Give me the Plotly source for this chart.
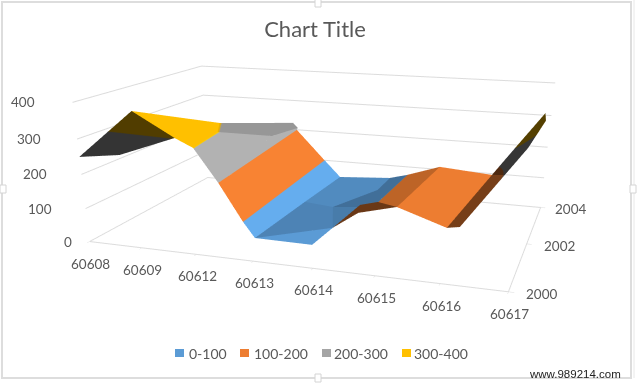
import plotly.graph_objects as go

categories = ["60608", "60609", "60612", "60613", "60614", "60615", "60616", "60617"]
years = [2000, 2002, 2004]
z_ticks = [0, 100, 200, 300, 400]
bands = ["0-100", "100-200", "200-300", "300-400"]
band_colors = ["#5B9BD5", "#ED7D31", "#A5A5A5", "#FFC000"]

vertex_x = {"a":0.00,"b":0.71,"c":1.44,"d":0.23,"e":2.05,"f":1.59,"t":1.89,"g":2.34,"h":2.00,"r":2.11,"s":2.23,"i":2.06,
            "j":2.77,"k":2.65,"l":3.02,"m":3.12,"n":3.10,"x":3.98,"y":4.04,"o":3.61,"z":4.20,"q":4.11,"w":4.10,"A":4.51,
            "B":4.48,"C":5.20,"D":5.10,"E":6.19,"F":6.04,"G":4.32,"H":4.36,"I":4.59,"J":4.96,"K":4.46,"L":6.21,"M":6.55,
            "N":6.72,"O":6.86,"P":7.00,"Q":7.00}
vertex_year = {"a":2000.00,"b":2000.06,"c":2000.51,"d":2001.18,"e":2000.02,"f":2001.72,"t":2001.09,"g":2000.21,"h":2003.95,
               "r":2003.92,"s":2002.45,"i":2003.99,"j":2000.15,"k":2004.00,"l":2000.04,"m":2003.62,"n":2001.87,"x":2000.02,
               "y":2000.75,"o":2001.91,"z":2001.63,"q":2002.92,"w":2003.74,"A":2003.47,"B":2001.74,"C":2003.15,"D":2000.71,
               "E":2002.90,"F":2000.01,"G":2000.00,"H":2001.15,"I":2001.38,"J":2001.22,"K":2000.76,"L":2000.10,"M":2001.84,
               "N":2001.43,"O":2001.95,"P":2002.76,"Q":2002.98}
vertex_value = {"a":250,"b":262,"c":300,"d":340,"e":300,"f":300,"t":300,"g":200,"h":225,"r":210,"s":240,"i":200,"j":100,
                "k":100,"l":65,"m":65,"n":70,"x":65,"y":70,"o":60,"z":85,"q":70,"w":70,"A":99,"B":99,"C":150,"D":150,"E":150,
                "F":150,"G":120,"H":120,"I":120,"J":120,"K":120,"L":150,"M":205,"N":300,"O":280,"P":350,"Q":320}
facets = ["abcd","dcet","dtff","tfhs","shrr","etsg","gsri","gikj","jknl","kmnn","lyxx","lnoy","ozyy","nmwq","nqoo",
          "wABq","qBzo","BACD","DCEF","GHIK","KIJJ","FLME","EMON","NOQP"]
facet_shade = [0.32,1.0,1.0,0.92,0.92,1.08,1.08,1.05,1.12,1.12,1.0,0.85,0.8,0.9,0.9,
               0.72,0.72,0.8,1.0,0.45,0.45,0.5,0.33,0.33]

def shaded(hexcolor, k):
    rgb = [min(255, int(int(hexcolor[i:i+2], 16) * k)) for i in (1, 3, 5)]
    return "rgb(%d,%d,%d)" % tuple(rgb)

def scale(k):
    out = []
    for b, c in enumerate(band_colors):
        s = shaded(c, k)
        out += [[b / 4, s], [(b + 1) / 4, s]]
    return out

def grid(table, f):
    return [[table[f[0]], table[f[1]]], [table[f[3]], table[f[2]]]]

fig = go.Figure()
for f, k in zip(facets, facet_shade):
    z = grid(vertex_value, f)
    fig.add_trace(go.Surface(x=grid(vertex_x, f), y=grid(vertex_year, f), z=z, surfacecolor=z,
                             colorscale=scale(k), cmin=0, cmax=400, showscale=False, hoverinfo="skip",
                             lighting=dict(ambient=1, diffuse=0, specular=0, fresnel=0, roughness=1)))

FULL_H = 700
def py(p):
    return 1 - p / FULL_H

axis_font = dict(family="Lato, sans-serif", size=13.5, color="#595959")
common = dict(showbackground=False, showspikes=False, zeroline=False, title=dict(text=""), showticklabels=False,
              linecolor="#dcdcdc", linewidth=2)
handles = [(3, 189), (633, 189), (318, 378), (318, 3)]
shapes = [dict(type="rect", xref="paper", yref="paper", x0=2/637, x1=631/637, y0=py(378), y1=py(2),
               line=dict(color="#dddddd", width=2), fillcolor="rgba(0,0,0,0)")]
shapes.append(dict(type="line", xref="paper", yref="paper", x0=634/637, x1=634/637, y0=py(378), y1=py(0),
                   line=dict(color="#e8e8e8", width=1)))
for hx, hy in handles:
    shapes.append(dict(type="rect", xref="paper", yref="paper", x0=(hx-3)/637, x1=(hx+3)/637, y0=py(hy+4), y1=py(hy-4),
                       line=dict(color="#d4d4d4", width=1), fillcolor="#ffffff"))

legend_square_x = [175, 240, 322, 402]
legend_text_x = [188, 253, 333, 413]
annotations = [dict(text="www.989214.com", xref="paper", yref="paper", x=623/637, y=py(374), xanchor="right",
                    yanchor="middle", showarrow=False, font=dict(family="Liberation Sans, Arial", size=11.5, color="#222222"))]
for name, color, sx, tx in zip(bands, band_colors, legend_square_x, legend_text_x):
    shapes.append(dict(type="rect", xref="paper", yref="paper", x0=sx/637, x1=(sx+9)/637, y0=py(357), y1=py(349),
                       line=dict(width=0), fillcolor=color))
    annotations.append(dict(text=name, xref="paper", yref="paper", x=tx/637, y=py(353), xanchor="left", yanchor="middle",
                            showarrow=False, xshift=-1, font=dict(family="Lato, sans-serif", size=14, color="#595959")))

scene_labels = []
for i, c in enumerate(categories):
    scene_labels.append(dict(x=i, y=years[0], z=0, text=c, showarrow=False, font=axis_font, xanchor="center", yanchor="middle", xshift=1, yshift=-22))
for y, dx in zip(years, [33, 33, 30]):
    scene_labels.append(dict(x=7, y=y, z=0, text=str(y), showarrow=False, font=axis_font, xanchor="center", yanchor="middle", xshift=dx, yshift=-2))
for t, dx in zip(z_ticks, [-16, -32, -32, -34, -36]):
    scene_labels.append(dict(x=0, y=years[0], z=t, text=str(t), showarrow=False, font=axis_font, xanchor="right", yanchor="middle", xshift=dx, yshift=0))

fig.update_layout(
    width=637, height=FULL_H, margin=dict(l=0, r=0, t=0, b=0, pad=0), paper_bgcolor="white",
    title=dict(text="Chart Title", x=315/637, xanchor="center", y=py(29), yanchor="middle", yref="container",
               font=dict(family="Lato, sans-serif", size=22, color="#595959")),
    showlegend=False, shapes=shapes, annotations=annotations,
    scene=dict(
        domain=dict(x=[0, 1], y=[0, 1]),
        aspectmode="manual", aspectratio=dict(x=2, y=1.305, z=0.654),
        camera=dict(eye=dict(x=1.317, y=-3.983, z=0.975), center=dict(x=-0.14, y=0.245, z=-1.183), up=dict(x=0, y=0, z=1),
                    projection=dict(type="perspective")),
        annotations=scene_labels,
        xaxis=dict(range=[0, 7], tickmode="array", tickvals=list(range(8)), showgrid=False, showline=True,
                   ticks="inside", ticklen=4, tickcolor="#dcdcdc", **common),
        yaxis=dict(range=[2000, 2004], tickmode="array", tickvals=years, showgrid=False, showline=True,
                   ticks="inside", ticklen=4, tickcolor="#dcdcdc", **common),
        zaxis=dict(range=[0, 400], tickmode="array", tickvals=z_ticks, showgrid=True,
                   gridcolor="#dcdcdc", gridwidth=2, showline=False, **common),
    ),
)
fig.write_html("out.html", config=dict(displayModeBar=False),
               post_script="document.body.style.margin='0';document.body.style.overflow='hidden';document.documentElement.style.overflow='hidden';")
